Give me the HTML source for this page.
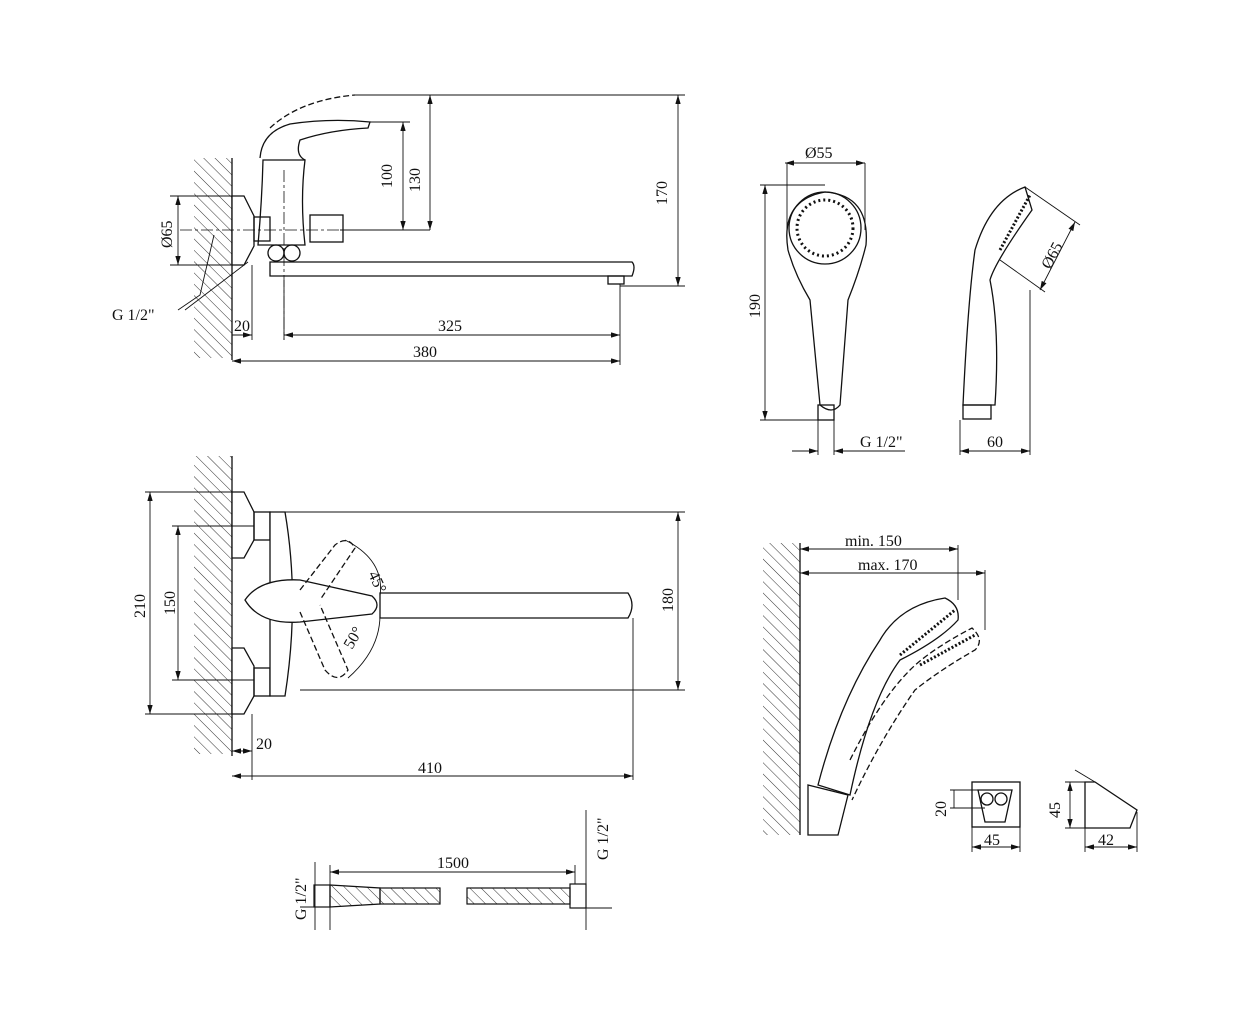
<!DOCTYPE html>
<html><head><style>
html,body{margin:0;padding:0;background:#fff;}
svg{display:block;}
text{font-family:"Liberation Serif",serif;font-size:16px;fill:#111;}
</style></head><body>
<svg width="1252" height="1024" viewBox="0 0 1252 1024" xmlns="http://www.w3.org/2000/svg">
<defs>
<pattern id="h" width="8" height="8" patternUnits="userSpaceOnUse" patternTransform="rotate(-45)">
<line x1="0" y1="0" x2="0" y2="8" stroke="#333" stroke-width="1"/></pattern>
<marker id="a" markerWidth="10" markerHeight="6" refX="10" refY="3" orient="auto-start-reverse"><path d="M0,0 L10,3 L0,6 z" fill="#111"/></marker>
</defs>
<g fill="none" stroke="#111" stroke-width="1.3">
<!-- TOP FAUCET -->
<rect x="194" y="158" width="38" height="200" fill="url(#h)" stroke="none"/>
<line x1="232" y1="158" x2="232" y2="360"/>
<path d="M232,196 L244,196 L254,216 L254,246 L244,265 L232,265 z" fill="#fff"/>
<path d="M263,160 Q262,200 258,245 L305,245 Q300,200 305,160 z" fill="#fff"/>
<path d="M260,158 Q262,132 290,124 Q330,118 370,122 L368,128 Q330,130 300,140 Q295,155 305,160" />
<path d="M270,128 Q300,100 355,95" stroke-dasharray="6,3"/>
<rect x="254" y="217" width="16" height="24"/>
<rect x="310" y="215" width="33" height="27"/>
<circle cx="276" cy="253" r="8"/><circle cx="292" cy="253" r="8"/>
<path d="M270,262 L632,262 Q636,266 632,276 L290,276 L270,276 z" fill="#fff"/>
<rect x="608" y="276" width="16" height="8"/>
<line x1="180" y1="230" x2="340" y2="230" stroke-dasharray="12,3,3,3" stroke-width="0.8"/>
<line x1="284" y1="170" x2="284" y2="340" stroke-dasharray="12,3,3,3" stroke-width="0.8"/>
<!-- dims -->
<g stroke-width="0.9">
<line x1="370" y1="122" x2="410" y2="122"/><line x1="403" y1="122" x2="403" y2="230" marker-start="url(#a)" marker-end="url(#a)"/>
<line x1="340" y1="230" x2="430" y2="230"/>
<line x1="355" y1="95" x2="685" y2="95"/><line x1="430" y1="95" x2="430" y2="230" marker-start="url(#a)" marker-end="url(#a)"/>
<line x1="678" y1="95" x2="678" y2="286" marker-start="url(#a)" marker-end="url(#a)"/>
<line x1="620" y1="286" x2="685" y2="286"/>
<line x1="178" y1="196" x2="178" y2="265" marker-start="url(#a)" marker-end="url(#a)"/>
<line x1="170" y1="196" x2="232" y2="196"/><line x1="170" y1="265" x2="232" y2="265"/>
<line x1="252" y1="265" x2="252" y2="340"/><line x1="284" y1="280" x2="284" y2="340"/>
<line x1="620" y1="284" x2="620" y2="365"/>
<line x1="232" y1="335" x2="252" y2="335" marker-end="url(#a)"/>
<line x1="284" y1="335" x2="620" y2="335" marker-start="url(#a)" marker-end="url(#a)"/>
<line x1="232" y1="361" x2="620" y2="361" marker-start="url(#a)" marker-end="url(#a)"/>
<polyline points="178,310 200,295 214,235"/><line x1="185" y1="310" x2="248" y2="262"/>
</g>
</g>
<text x="392" y="188" transform="rotate(-90 392 188)">100</text>
<text x="420" y="192" transform="rotate(-90 420 192)">130</text>
<text x="667" y="205" transform="rotate(-90 667 205)">170</text>
<text x="172" y="248" transform="rotate(-90 172 248)">Ø65</text>
<text x="112" y="320">G 1/2"</text>
<text x="234" y="331">20</text>
<text x="438" y="331">325</text>
<text x="413" y="357">380</text>

<!-- SHOWER HEAD FRONT/SIDE -->
<g fill="none" stroke="#111" stroke-width="1.3">
<path d="M788,250 Q780,200 825,192 Q870,195 866,245 Q860,270 848,300 L840,405 Q832,415 820,405 L810,300 Q795,275 788,250 z"/>
<circle cx="825" cy="228" r="36"/>
<circle cx="825" cy="228" r="28" stroke-dasharray="2,3" stroke-width="3"/>
<rect x="818" y="405" width="16" height="15"/>
<path d="M1025,187 Q990,200 975,250 Q968,300 963,405 L995,405 Q1000,330 990,280 Q995,262 1032,210 z"/>
<line x1="1000" y1="250" x2="1030" y2="195" stroke-width="3" stroke-dasharray="2,2"/>
<rect x="963" y="405" width="28" height="14"/>
<g stroke-width="0.9">
<line x1="785" y1="163" x2="865" y2="163" marker-start="url(#a)" marker-end="url(#a)"/>
<line x1="787" y1="163" x2="787" y2="230"/><line x1="865" y1="163" x2="865" y2="230"/>
<line x1="765" y1="185" x2="765" y2="420" marker-start="url(#a)" marker-end="url(#a)"/>
<line x1="760" y1="185" x2="825" y2="185"/><line x1="760" y1="420" x2="818" y2="420"/>
<line x1="818" y1="420" x2="818" y2="455"/><line x1="834" y1="420" x2="834" y2="455"/>
<line x1="792" y1="451" x2="818" y2="451" marker-end="url(#a)"/><line x1="834" y1="451" x2="905" y2="451" marker-start="url(#a)"/>
<line x1="960" y1="420" x2="960" y2="455"/><line x1="1030" y1="290" x2="1030" y2="455"/>
<line x1="960" y1="451" x2="1030" y2="451" marker-start="url(#a)" marker-end="url(#a)"/>
<line x1="1025" y1="187" x2="1080" y2="225"/><line x1="1000" y1="260" x2="1045" y2="292"/>
<line x1="1075" y1="222" x2="1040" y2="290" marker-start="url(#a)" marker-end="url(#a)"/>
</g>
</g>
<text x="805" y="158">Ø55</text>
<text x="760" y="318" transform="rotate(-90 760 318)">190</text>
<text x="860" y="447">G 1/2"</text>
<text x="987" y="447">60</text>
<text x="1050" y="270" transform="rotate(-62 1050 270)">Ø65</text>

<!-- MIDDLE FAUCET -->
<g fill="none" stroke="#111" stroke-width="1.3">
<rect x="194" y="456" width="38" height="298" fill="url(#h)" stroke="none"/>
<line x1="232" y1="456" x2="232" y2="756"/>
<path d="M232,492 L244,492 L254,512 L254,540 L244,558 L232,558 z" fill="#fff"/>
<path d="M232,648 L244,648 L254,666 L254,696 L244,714 L232,714 z" fill="#fff"/>
<rect x="254" y="512" width="16" height="28"/><rect x="254" y="668" width="16" height="28"/>
<path d="M270,512 L285,512 Q300,600 285,696 L270,696 z" fill="#fff"/>
<path d="M380,593 L628,593 Q636,605 628,618 L380,618 z" fill="#fff"/>
<path d="M245,600 Q260,578 300,580 L372,596 Q382,605 372,614 L300,622 Q260,625 245,600 z" fill="#fff"/>
<path d="M300,590 L335,545 Q348,535 355,548 L320,600" stroke-dasharray="6,3"/>
<path d="M300,612 L325,670 Q338,685 348,670 L320,605" stroke-dasharray="6,3"/>
<path d="M345,540 Q385,560 380,596" stroke-width="0.9"/>
<path d="M380,615 Q380,650 348,678" stroke-width="0.9"/>
<g stroke-width="0.9">
<line x1="150" y1="492" x2="150" y2="714" marker-start="url(#a)" marker-end="url(#a)"/>
<line x1="145" y1="492" x2="232" y2="492"/><line x1="145" y1="714" x2="232" y2="714"/>
<line x1="178" y1="526" x2="178" y2="680" marker-start="url(#a)" marker-end="url(#a)"/>
<line x1="172" y1="526" x2="254" y2="526"/><line x1="172" y1="680" x2="254" y2="680"/>
<line x1="270" y1="512" x2="685" y2="512"/><line x1="300" y1="690" x2="685" y2="690"/>
<line x1="678" y1="512" x2="678" y2="690" marker-start="url(#a)" marker-end="url(#a)"/>
<line x1="252" y1="714" x2="252" y2="780"/><line x1="633" y1="618" x2="633" y2="780"/>
<line x1="232" y1="751" x2="252" y2="751" marker-start="url(#a)" marker-end="url(#a)"/>
<line x1="232" y1="776" x2="633" y2="776" marker-start="url(#a)" marker-end="url(#a)"/>
</g>
</g>
<text x="145" y="618" transform="rotate(-90 145 618)">210</text>
<text x="175" y="615" transform="rotate(-90 175 615)">150</text>
<text x="673" y="612" transform="rotate(-90 673 612)">180</text>
<text x="368" y="574" transform="rotate(65 368 574)">45°</text>
<text x="352" y="650" transform="rotate(-60 352 650)">50°</text>
<text x="256" y="749">20</text>
<text x="418" y="773">410</text>

<!-- HOSE -->
<g fill="none" stroke="#111" stroke-width="1.2">
<rect x="314" y="885" width="16" height="22"/>
<path d="M330,885 L380,888 L380,904 L330,907 z" fill="url(#h)"/>
<rect x="380" y="888" width="60" height="16" fill="url(#h)"/>
<rect x="467" y="888" width="103" height="16" fill="url(#h)"/>
<rect x="570" y="884" width="16" height="24"/>
<g stroke-width="0.9">
<line x1="330" y1="872" x2="575" y2="872" marker-start="url(#a)" marker-end="url(#a)"/>
<line x1="330" y1="865" x2="330" y2="885"/><line x1="575" y1="865" x2="575" y2="884"/>
<line x1="315" y1="862" x2="315" y2="930"/><line x1="330" y1="907" x2="330" y2="930"/>
<line x1="586" y1="810" x2="586" y2="884"/><line x1="586" y1="908" x2="586" y2="930"/>
<line x1="300" y1="907" x2="330" y2="907"/><line x1="586" y1="908" x2="612" y2="908"/>
</g>
</g>
<text x="437" y="868">1500</text>
<text x="306" y="920" transform="rotate(-90 306 920)">G 1/2"</text>
<text x="608" y="860" transform="rotate(-90 608 860)">G 1/2"</text>

<!-- INCLINED SHOWER -->
<g fill="none" stroke="#111" stroke-width="1.3">
<rect x="763" y="543" width="37" height="292" fill="url(#h)" stroke="none"/>
<line x1="800" y1="543" x2="800" y2="835"/>
<path d="M808,785 L848,795 L838,835 L808,835 z"/>
<path d="M818,785 Q840,700 880,640 Q900,605 945,598 Q960,605 958,620 Q940,640 900,660 Q870,700 850,795 z" fill="#fff"/>
<line x1="900" y1="655" x2="955" y2="610" stroke-width="3" stroke-dasharray="2,2"/>
<path d="M850,760 Q880,700 910,670 Q930,650 972,628 Q985,640 975,650 Q940,670 915,690 Q880,740 852,800" stroke-dasharray="6,3"/>
<line x1="920" y1="665" x2="975" y2="635" stroke-width="3" stroke-dasharray="2,2"/>
<g stroke-width="0.9">
<line x1="800" y1="549" x2="958" y2="549" marker-start="url(#a)" marker-end="url(#a)"/>
<line x1="800" y1="573" x2="985" y2="573" marker-start="url(#a)" marker-end="url(#a)"/>
<line x1="958" y1="545" x2="958" y2="600"/><line x1="985" y1="570" x2="985" y2="630"/>
</g>
<rect x="972" y="782" width="48" height="45"/>
<path d="M978,790 L1012,790 L1005,822 L985,822 z"/>
<circle cx="987" cy="799" r="6"/><circle cx="1001" cy="799" r="6"/>
<path d="M1085,782 L1095,782 L1137,810 L1130,828 L1085,828 z"/>
<g stroke-width="0.9">
<line x1="950" y1="790" x2="985" y2="790"/><line x1="950" y1="808" x2="985" y2="808"/>
<line x1="954" y1="790" x2="954" y2="808"/>
<line x1="972" y1="827" x2="972" y2="852"/><line x1="1020" y1="827" x2="1020" y2="852"/>
<line x1="972" y1="847" x2="1020" y2="847" marker-start="url(#a)" marker-end="url(#a)"/>
<line x1="1065" y1="782" x2="1085" y2="782"/><line x1="1065" y1="828" x2="1085" y2="828"/>
<line x1="1070" y1="782" x2="1070" y2="828" marker-start="url(#a)" marker-end="url(#a)"/>
<line x1="1085" y1="828" x2="1085" y2="852"/><line x1="1137" y1="812" x2="1137" y2="852"/>
<line x1="1085" y1="847" x2="1137" y2="847" marker-start="url(#a)" marker-end="url(#a)"/>
<line x1="1075" y1="770" x2="1095" y2="782"/>
</g>
</g>
<text x="845" y="546">min. 150</text>
<text x="858" y="570">max. 170</text>
<text x="946" y="817" transform="rotate(-90 946 817)">20</text>
<text x="984" y="845">45</text>
<text x="1060" y="818" transform="rotate(-90 1060 818)">45</text>
<text x="1098" y="845">42</text>
</svg>
</body></html>
